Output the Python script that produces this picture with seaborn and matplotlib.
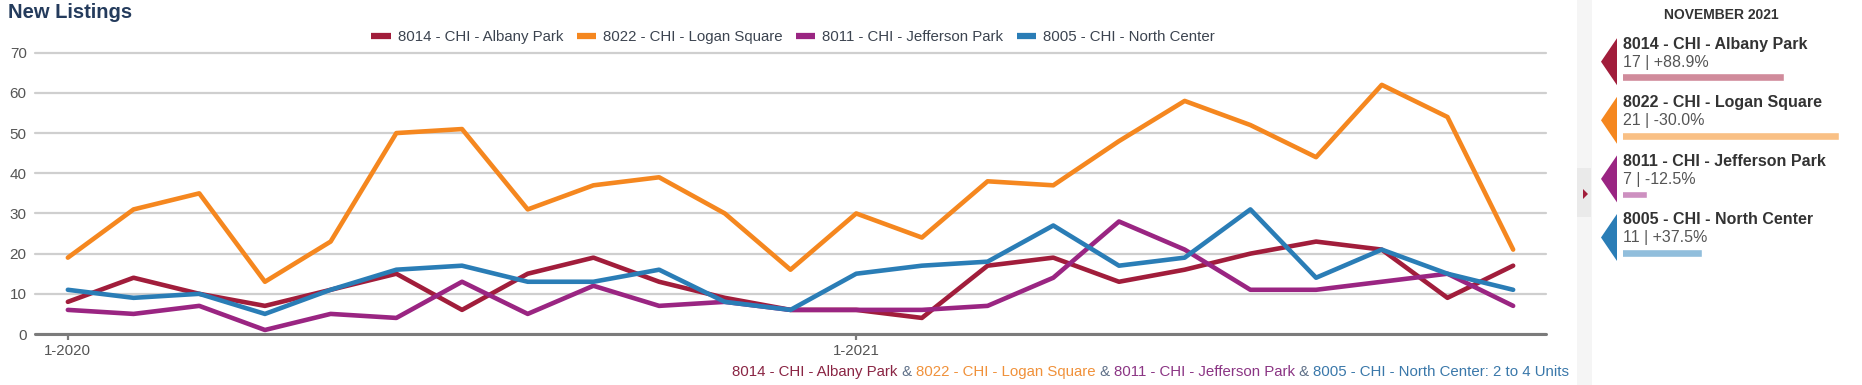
import numpy as np
import pandas as pd
import matplotlib
matplotlib.use("Agg")
import matplotlib.pyplot as plt
import seaborn as sns
from matplotlib.patches import Polygon, Rectangle

# ---------------- data ----------------
months = ["1-2020", "2-2020", "3-2020", "4-2020", "5-2020", "6-2020", "7-2020", "8-2020",
          "9-2020", "10-2020", "11-2020", "12-2020", "1-2021", "2-2021", "3-2021", "4-2021",
          "5-2021", "6-2021", "7-2021", "8-2021", "9-2021", "10-2021", "11-2021"]
series_names = ["8014 - CHI - Albany Park", "8022 - CHI - Logan Square",
                "8011 - CHI - Jefferson Park", "8005 - CHI - North Center"]
albany_park = [8, 14, 10, 7, 11, 15, 6, 15, 19, 13, 9, 6, 6, 4, 17, 19, 13, 16, 20, 23, 21, 9, 17]
logan_square = [19, 31, 35, 13, 23, 50, 51, 31, 37, 39, 30, 16, 30, 24, 38, 37, 48, 58, 52, 44, 62, 54, 21]
jefferson_park = [6, 5, 7, 1, 5, 4, 13, 5, 12, 7, 8, 6, 6, 6, 7, 14, 28, 21, 11, 11, 13, 15, 7]
north_center = [11, 9, 10, 5, 11, 16, 17, 13, 13, 16, 8, 6, 15, 17, 18, 27, 17, 19, 31, 14, 21, 15, 11]
xtick_labels = ["1-2020", "1-2021"]
yticks = [0, 10, 20, 30, 40, 50, 60, 70]
panel_title = "NOVEMBER 2021"
caption_suffix = ": 2 to 4 Units"

series_values = [albany_park, logan_square, jefferson_park, north_center]
line_colors = ["#a11d3b", "#f5871f", "#9a2582", "#2a7db6"]
bar_colors = ["#d08b9b", "#f9c085", "#cd90c0", "#91bedc"]
caption_colors = ["#8a2544", "#f0913a", "#8b3584", "#3a78aa"]

# ---------------- figure ----------------
sns.set_theme(style="white")
plt.rcParams["font.family"] = ["Liberation Sans", "DejaVu Sans"]

W, H = 1862, 385
fig = plt.figure(figsize=(W / 100, H / 100), dpi=100)
fig.patch.set_facecolor("white")


def fx(px):
    return px / W


def fy(py):
    return 1 - py / H


# background panel axes in pixel coordinates (decorations + side panel text)
pax = fig.add_axes([0, 0, 1, 1])
pax.set_xlim(0, W)
pax.set_ylim(H, 0)
pax.axis("off")
pax.patch.set_alpha(0)

# main line chart
ax = fig.add_axes([fx(35), fy(334), fx(1546) - fx(35), (334 - 52.7) / H])
df = pd.DataFrame({
    "idx": np.tile(np.arange(len(months)), len(series_names)),
    "month": months * len(series_names),
    "series": np.repeat(series_names, len(months)),
    "value": np.concatenate(series_values),
})
sns.lineplot(data=df, x="idx", y="value", hue="series", hue_order=series_names,
             palette=line_colors, linewidth=3.3, ax=ax, sort=False, legend=True, zorder=3)
handles, labels = ax.get_legend_handles_labels()
ax.get_legend().remove()

ax.set_xlim(-0.5, len(months) - 0.5)
ax.set_ylim(0, 70)
ax.set_yticks(yticks)
ax.set_xticks([months.index(m) for m in xtick_labels])
ax.set_xticklabels(xtick_labels)
ax.set_xlabel("")
ax.set_ylabel("")
for s in ax.spines.values():
    s.set_visible(False)
ax.set_axisbelow(True)
ax.grid(axis="y", color="#cfcfcf", linewidth=1.6)
ax.grid(axis="x", visible=False)
for gl in ax.get_ygridlines():
    gl.set_clip_on(False)
ax.axhline(0, color="#7b7b7b", linewidth=2.2, clip_on=False, zorder=2)
ax.tick_params(axis="y", length=0, pad=6, labelsize=11, labelcolor="#555555")
ax.tick_params(axis="x", length=4.5, width=1.6, color="#7b7b7b", pad=3,
               labelsize=10.8, labelcolor="#555555", bottom=True)

# legend
leg = fig.legend(handles, labels, loc="center", bbox_to_anchor=(fx(793), fy(37)),
                 ncol=4, frameon=False, fontsize=10.8, handlelength=1.3,
                 handletextpad=0.45, columnspacing=0.9, labelcolor="#3c4450")
for h in leg.legend_handles:
    h.set_linewidth(4.5)
    h.set_solid_capstyle("butt")

# title
fig.text(fx(8), fy(13), "New Listings", fontsize=14.5, fontweight="bold",
         color="#243b5c", va="center", ha="left")

# caption (multi-coloured, right aligned)
fig.canvas.draw()
renderer = fig.canvas.get_renderer()
pieces = []
for i, name in enumerate(series_names):
    if i > 0:
        pieces.append((" & ", "#5f7088"))
    txt = name + (caption_suffix if i == len(series_names) - 1 else "")
    pieces.append((txt, caption_colors[i]))
x_right = 1569
for txt, col in reversed(pieces):
    t = pax.text(x_right, 372, txt, fontsize=10.8, color=col, ha="right", va="center")
    bb = t.get_window_extent(renderer=renderer)
    x_right -= bb.width

# ---------------- side panel ----------------
pax.add_patch(Rectangle((1577, 0), 15, H, facecolor="#f5f5f5", edgecolor="none"))
pax.add_patch(Rectangle((1577, 168), 14, 49, facecolor="#eaeaea", edgecolor="none"))
pax.add_patch(Polygon([[1583, 189], [1583, 199], [1588, 194]], closed=True,
                      facecolor="#a11d3b", edgecolor="none"))
pax.text(1721, 15, panel_title, ha="center", va="center", fontsize=10,
         fontweight="bold", color="#333333")

step = 58.6
for i, name in enumerate(series_names):
    vals = series_values[i]
    cur, prev = vals[-1], vals[-13]
    pct = (cur - prev) / prev * 100
    yc = 61.7 + i * step
    pax.add_patch(Polygon([[1601, yc], [1617, yc - 23.5], [1617, yc + 23.5]], closed=True,
                          facecolor=line_colors[i], edgecolor="none"))
    pax.text(1623, 44 + i * step, name, fontsize=11.5, fontweight="bold",
             color="#333333", va="center", ha="left")
    pax.text(1623, 62 + i * step, f"{cur} | {pct:+.1f}%", fontsize=11.5,
             color="#555555", va="center", ha="left")

# bars in side panel
bax = fig.add_axes([fx(1623), fy(48 + 4 * step), fx(1839) - fx(1623), 4 * step / H])
last_vals = [v[-1] for v in series_values]
bdf = pd.DataFrame({"name": series_names, "value": last_vals})
sns.barplot(data=bdf, x="value", y="name", hue="name", palette=bar_colors,
            orient="h", width=0.135, ax=bax, legend=False, saturation=1)
bax.set_xlim(5.25, 21.0)
bax.set_ylim(len(series_names) - 0.5, -0.5)
bax.axis("off")

fig.savefig("out.png", dpi=100, facecolor="white")
